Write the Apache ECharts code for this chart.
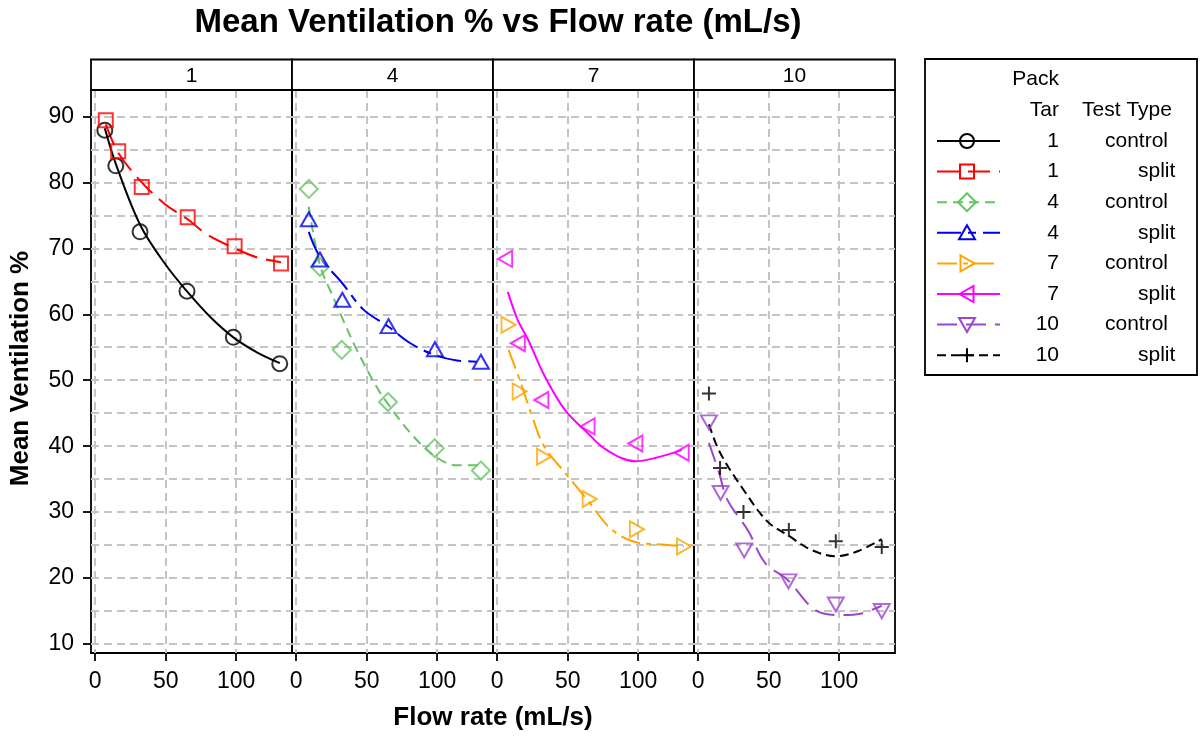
<!DOCTYPE html>
<html><head><meta charset="utf-8">
<script src="https://cdn.jsdelivr.net/npm/echarts@6/dist/echarts.min.js"></script>
<style>html,body{margin:0;padding:0;background:#fff}#chart{width:1200px;height:739px}</style>
</head><body><div id="chart"></div>
<script>
// ---------------- data ----------------
const panels = ['1', '4', '7', '10'];
const xTickValues = [0, 50, 100];
const yTickValues = [10, 20, 30, 40, 50, 60, 70, 80, 90];
const yGridValues = [10, 15, 20, 25, 30, 35, 40, 45, 50, 55, 60, 65, 70, 75, 80, 85, 90];
const legendTars = ['1', '1', '4', '4', '7', '7', '10', '10'];
const legendTypes = ['control', 'split', 'control', 'split', 'control', 'split', 'control', 'split'];

// observed means [flow rate, mean ventilation %]
const tar1Control = [[6.8, 87.9], [14.6, 82.5], [31.8, 72.5], [65.1, 63.5], [98.0, 56.5], [130.9, 52.5]];
const tar1Split = [[7.5, 89.4], [16.3, 84.7], [33.0, 79.3], [65.6, 74.7], [98.9, 70.3], [131.8, 67.7]];
const tar4Control = [[8.9, 79.0], [16.8, 67.2], [32.3, 54.6], [65.1, 46.7], [98.2, 39.7], [131.0, 36.3]];
const tar4Split = [[8.9, 74.4], [16.8, 68.3], [32.7, 62.2], [65.5, 58.2], [98.4, 54.7], [131.0, 52.8]];
const tar7Control = [[8.0, 58.4], [15.9, 48.3], [33.2, 38.4], [65.6, 32.0], [99.1, 27.4], [132.5, 24.8]];
const tar7Split = [[5.6, 68.4], [14.6, 55.6], [31.3, 47.0], [64.1, 43.0], [98.0, 40.4], [130.9, 39.0]];
const tar10Control = [[7.6, 43.6], [15.9, 32.9], [32.6, 24.2], [64.0, 19.5], [97.6, 16.0], [130.2, 15.0]];
const tar10Split = [[7.6, 48.0], [15.5, 36.7], [32.1, 30.0], [64.3, 27.3], [97.6, 25.6], [130.2, 24.7]];

// smoothed curves
const tar1ControlFit = [[6.8, 88.2], [14.6, 82.8], [32, 73.5], [50, 67.5], [65, 63.5], [82, 59.5], [98, 56.5], [115, 54.2], [131, 52.6]];
const tar1SplitFit = [[7.5, 88.8], [16.3, 84.5], [33, 80.0], [50, 76.6], [65.6, 74.4], [80, 72.0], [98.9, 70.0], [115, 68.6], [131.8, 67.9]];
const tar4ControlFit = [[8.9, 76.3], [16.8, 67.5], [26, 62.7], [32.3, 59.6], [43, 54.6], [57, 49.0], [65.1, 46.4], [81, 42.0], [98.2, 38.5], [114, 37.1], [131, 37.1]];
const tar4SplitFit = [[8.9, 72.5], [16.8, 68.7], [32.7, 64.7], [47.7, 60.7], [65.5, 58.1], [81, 55.6], [98.4, 53.8], [114, 53.0], [131, 52.8]];
const tar7ControlFit = [[8, 54.6], [15.9, 50.1], [24, 45.0], [33.2, 40.0], [48, 36.0], [65.6, 31.4], [81, 27.4], [99.1, 25.4], [117, 25.1], [132.5, 24.8]];
const tar7SplitFit = [[7.5, 63.4], [14.6, 59.1], [22, 56.1], [33.7, 50.6], [48, 45.5], [64.1, 42.0], [77, 39.5], [98, 37.7], [112, 38.2], [130.9, 39.4]];
const tar10ControlFit = [[7.6, 40.5], [15, 35.8], [20.6, 31.9], [35.6, 27.1], [47.4, 22.3], [63, 19.8], [84.3, 15.0], [102, 14.4], [115, 14.6], [130.2, 15.8]];
const tar10SplitFit = [[7.6, 43.3], [15.5, 39.0], [32.1, 33.4], [49, 28.6], [64.3, 26.4], [80, 24.3], [97.6, 23.3], [113.6, 24.1], [130.2, 25.9]];

// ---------------- layout / style ----------------
const FONT = '"Liberation Sans", Arial, Helvetica, sans-serif';
const P_LEFT = 91, P_W = 201, P_TOP = 90, P_BOTTOM = 653, STRIP_TOP = 59.5;
const X_MIN = -3, X_MAX = 139.6, Y_MIN = 8.64, Y_MAX = 94.0;
const FRAME_W = 1.8;
const MARK_W = 2;
const gridLine = { color: '#c4c4c4', width: 2, type: [8, 5] };

const styles = [
  { color: '#000000', symbol: 'circle', size: 15, rot: 0, dash: 'solid' },
  { color: '#ff0000', symbol: 'rect', size: 14, rot: 0, dash: [22, 9] },
  { color: '#66c466', symbol: 'diamond', size: [18, 18], rot: 0, dash: [10, 6] },
  { color: '#0000ee', symbol: 'triangle', size: [16, 14], rot: 0, dash: [24, 7, 8, 7] },
  { color: '#ffa500', symbol: 'triangle', size: [16, 14], rot: -90, dash: [20, 6, 5, 6] },
  { color: '#ff00ff', symbol: 'triangle', size: [16, 14], rot: 90, dash: 'solid' },
  { color: '#9b45d0', symbol: 'triangle', size: [16, 14], rot: 180, dash: [20, 9] },
  { color: '#000000', symbol: 'path://M0,5H10M5,0V10', size: 14, rot: 0, dash: [9, 5] }
];
const pointSets = [tar1Control, tar1Split, tar4Control, tar4Split, tar7Control, tar7Split, tar10Control, tar10Split];
const fitSets = [tar1ControlFit, tar1SplitFit, tar4ControlFit, tar4SplitFit, tar7ControlFit, tar7SplitFit, tar10ControlFit, tar10SplitFit];
const panelOf = [0, 0, 1, 1, 2, 2, 3, 3];

const grids = [], xAxes = [], yAxes = [], series = [], graphics = [];
panels.forEach((p, i) => {
  grids.push({ left: P_LEFT + i * P_W, top: P_TOP, width: P_W, height: P_BOTTOM - P_TOP,
    show: true, borderColor: '#000', borderWidth: FRAME_W, backgroundColor: 'transparent' });
  xAxes.push({ type: 'value', gridIndex: i, min: X_MIN, max: X_MAX,
    axisLine: { show: false },
    axisTick: { show: true, length: 8, customValues: xTickValues, lineStyle: { color: '#000', width: FRAME_W } },
    axisLabel: { customValues: xTickValues, fontSize: 23, fontFamily: FONT, color: '#000', margin: 17 },
    splitLine: { show: true, lineStyle: gridLine } });
  yAxes.push({ type: 'value', gridIndex: i, min: Y_MIN, max: Y_MAX,
    axisLine: { show: false },
    axisTick: { show: false, customValues: yGridValues },
    axisLabel: { show: false, customValues: yGridValues },
    splitLine: { show: true, lineStyle: gridLine } });
  // strip
  graphics.push({ type: 'rect', shape: { x: P_LEFT + i * P_W, y: STRIP_TOP, width: P_W, height: P_TOP - STRIP_TOP },
    style: { fill: '#fff', stroke: '#000', lineWidth: FRAME_W }, z: 10 });
  graphics.push({ type: 'text', x: P_LEFT + i * P_W + P_W / 2, y: (STRIP_TOP + P_TOP) / 2 + 1,
    style: { text: p, font: '21px ' + FONT, fill: '#000', align: 'center', verticalAlign: 'middle' }, z: 11 });
});
// labelled y axis on first panel
yAxes.push({ type: 'value', gridIndex: 0, min: Y_MIN, max: Y_MAX, position: 'left',
  axisLine: { show: false },
  axisTick: { show: true, length: 8, customValues: yTickValues, lineStyle: { color: '#000', width: FRAME_W } },
  axisLabel: { customValues: yTickValues, fontSize: 23, fontFamily: FONT, color: '#000', margin: 17 },
  splitLine: { show: false } });

styles.forEach((s, k) => {
  const pi = panelOf[k];
  const name = legendTars[k] + ' ' + legendTypes[k];
  series.push({ type: 'line', name: name, xAxisIndex: pi, yAxisIndex: pi, data: fitSets[k],
    smooth: 0.35, showSymbol: false, symbol: 'none', silent: true, z: 2,
    lineStyle: { color: s.color, width: MARK_W, type: s.dash } });
  series.push({ type: 'scatter', name: name, xAxisIndex: pi, yAxisIndex: pi, data: pointSets[k],
    symbol: s.symbol, symbolSize: s.size, symbolRotate: s.rot, silent: true, z: 3,
    itemStyle: { color: 'rgba(0,0,0,0)', borderColor: s.color, borderWidth: MARK_W } });
});

// axis titles
graphics.push({ type: 'text', x: (P_LEFT + P_LEFT + 4 * P_W) / 2, y: 718,
  style: { text: 'Flow rate (mL/s)', font: 'bold 26px ' + FONT, fill: '#000', align: 'center', verticalAlign: 'middle' } });
graphics.push({ type: 'text', x: 21, y: (P_TOP + P_BOTTOM) / 2 - 3, rotation: Math.PI / 2,
  style: { text: 'Mean Ventilation %', font: 'bold 26px ' + FONT, fill: '#000', align: 'center', verticalAlign: 'middle' } });

// legend (key)
const LG = { x: 925, y: 59, w: 272, h: 316, row0: 141, step: 30.6, lineX0: 937, lineX1: 1000, symX: 967, numRight: 1059 };
const typeLeft = { control: 1105, split: 1138 };
graphics.push({ type: 'rect', shape: { x: LG.x, y: LG.y, width: LG.w, height: LG.h },
  style: { fill: '#fff', stroke: '#000', lineWidth: FRAME_W } });
const lgFont = '21px ' + FONT;
graphics.push({ type: 'text', x: LG.numRight, y: 79, style: { text: 'Pack', font: lgFont, fill: '#000', align: 'right', verticalAlign: 'middle' } });
graphics.push({ type: 'text', x: LG.numRight, y: 110, style: { text: 'Tar', font: lgFont, fill: '#000', align: 'right', verticalAlign: 'middle' } });
graphics.push({ type: 'text', x: 1127, y: 110, style: { text: 'Test Type', font: lgFont, fill: '#000', align: 'center', verticalAlign: 'middle' } });

function legendSymbol(k, cx, cy) {
  const s = styles[k];
  const st = { fill: 'none', stroke: s.color, lineWidth: MARK_W };
  if (k === 0) return { type: 'circle', shape: { cx: cx, cy: cy, r: 7 }, style: st };
  if (k === 1) return { type: 'rect', shape: { x: cx - 7, y: cy - 7, width: 14, height: 14 }, style: st };
  if (k === 2) return { type: 'polygon', shape: { points: [[cx, cy - 9], [cx + 9, cy], [cx, cy + 9], [cx - 9, cy]] }, style: st };
  if (k === 3) return { type: 'polygon', shape: { points: [[cx, cy - 7.5], [cx + 8, cy + 6.5], [cx - 8, cy + 6.5]] }, style: st };
  if (k === 4) return { type: 'polygon', shape: { points: [[cx + 7.5, cy], [cx - 6.5, cy - 8], [cx - 6.5, cy + 8]] }, style: st };
  if (k === 5) return { type: 'polygon', shape: { points: [[cx - 7.5, cy], [cx + 6.5, cy - 8], [cx + 6.5, cy + 8]] }, style: st };
  if (k === 6) return { type: 'polygon', shape: { points: [[cx, cy + 7.5], [cx + 8, cy - 6.5], [cx - 8, cy - 6.5]] }, style: st };
  return { type: 'group', children: [
    { type: 'line', shape: { x1: cx - 7, y1: cy, x2: cx + 7, y2: cy }, style: st },
    { type: 'line', shape: { x1: cx, y1: cy - 7, x2: cx, y2: cy + 7 }, style: st }] };
}
legendTars.forEach((t, k) => {
  const y = LG.row0 + k * LG.step;
  const s = styles[k];
  graphics.push({ type: 'line', shape: { x1: LG.lineX0, y1: y, x2: LG.lineX1, y2: y },
    style: { stroke: s.color, lineWidth: MARK_W, lineDash: s.dash === 'solid' ? null : s.dash } });
  graphics.push(legendSymbol(k, LG.symX, y));
  graphics.push({ type: 'text', x: LG.numRight, y: y, style: { text: t, font: lgFont, fill: '#000', align: 'right', verticalAlign: 'middle' } });
  graphics.push({ type: 'text', x: typeLeft[legendTypes[k]], y: y, style: { text: legendTypes[k], font: lgFont, fill: '#000', align: 'left', verticalAlign: 'middle' } });
});

const chart = echarts.init(document.getElementById('chart'), null, { renderer: 'canvas' });
chart.setOption({
  backgroundColor: '#fff',
  animation: false,
  title: { text: 'Mean Ventilation % vs Flow rate (mL/s)', left: 493, top: 1, textAlign: 'center',
    textStyle: { fontSize: 33, fontWeight: 'bold', fontFamily: FONT, color: '#000' } },
  grid: grids, xAxis: xAxes, yAxis: yAxes, series: series, graphic: graphics
});
</script></body></html>
